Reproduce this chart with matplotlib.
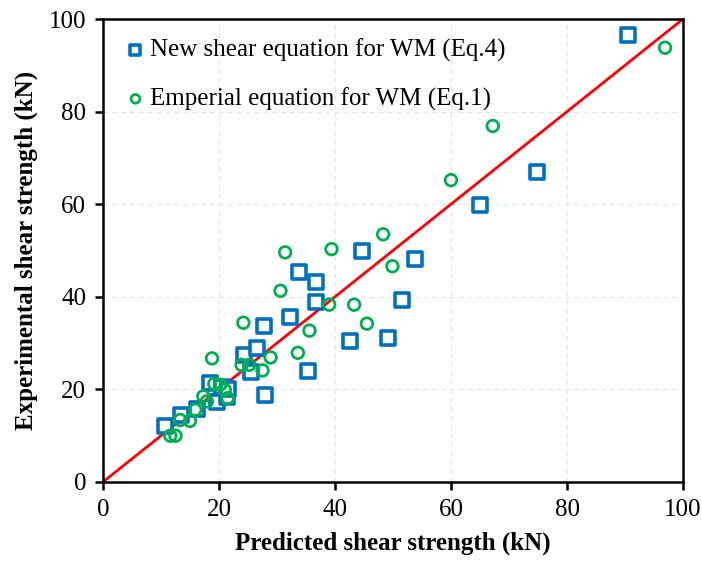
import numpy as np
import matplotlib.pyplot as plt

# Dados (kN)
novo_x = [10.7, 13.4, 16.2, 18.4, 19.6, 20.5, 21.3, 21.5, 24.3, 25.5, 26.6, 27.8, 28.0,
          32.2, 33.8, 35.3, 36.8, 36.8, 42.6, 44.6, 49.1, 51.6, 53.8, 65.0, 74.9, 90.5]
novo_y = [12.0, 14.5, 15.8, 21.3, 17.2, 20.6, 18.3, 20.0, 27.4, 23.7, 28.9, 33.6, 18.7,
          35.6, 45.4, 24.0, 43.2, 38.8, 30.5, 49.8, 31.0, 39.3, 48.2, 59.8, 66.9, 96.5]

emp_x = [11.6, 12.5, 13.3, 15.0, 15.9, 17.3, 17.9, 18.8, 19.2, 20.2, 21.0, 21.5, 23.9,
         24.2, 25.2, 27.5, 28.9, 30.6, 31.4, 33.6, 35.6, 39.0, 39.4, 43.3, 45.5, 48.3,
         49.9, 60.0, 67.2, 96.9]
emp_y = [10.0, 10.0, 13.4, 13.2, 15.6, 18.5, 17.4, 26.7, 21.2, 21.0, 19.9, 18.1, 25.3,
         34.4, 25.3, 24.1, 26.9, 41.3, 49.6, 27.9, 32.7, 38.3, 50.3, 38.3, 34.2, 53.5,
         46.6, 65.2, 76.9, 93.8]

ticks = [0, 20, 40, 60, 80, 100]

plt.rcParams['font.family'] = ['Liberation Serif', 'DejaVu Serif']

fig = plt.figure(figsize=(7.02, 5.64), dpi=100)
ax = fig.add_axes([0.1467, 0.1454, 0.8263, 0.8209])

# Linha de igualdade
ax.plot([0, 100], [0, 100], color='#ff0000', lw=2, zorder=2)

ax.scatter(novo_x, novo_y, marker='s', s=95, facecolors='white', edgecolors='#0070c0',
           linewidths=2.6, zorder=3, label='New shear equation for WM (Eq.4)')
ax.scatter(emp_x, emp_y, marker='o', s=70, facecolors='none', edgecolors='#00b050',
           linewidths=2, zorder=4, label='Emperial equation for WM (Eq.1)')

ax.set_xlim(0, 100)
ax.set_ylim(0, 100)
ax.set_xticks(ticks)
ax.set_yticks(ticks)
ax.grid(True, color='#e3e3e3', ls=(0, (4, 4)), lw=0.8, zorder=0)
ax.set_axisbelow(True)

for s in ax.spines.values():
    s.set_linewidth(1.8)
ax.tick_params(direction='out', length=6, width=1.8, labelsize=18, pad=6)

ax.set_xlabel('Predicted shear strength (kN)', fontsize=18, fontweight='bold', labelpad=8)
ax.set_ylabel('Experimental shear strength (kN)', fontsize=18, fontweight='bold', labelpad=8)

leg = ax.legend(loc='upper left', fontsize=18, frameon=False, handletextpad=0.1,
                labelspacing=1.0, borderaxespad=0.4, handlelength=1.0, markerscale=0.75)

fig.savefig('out.png', dpi=100)
